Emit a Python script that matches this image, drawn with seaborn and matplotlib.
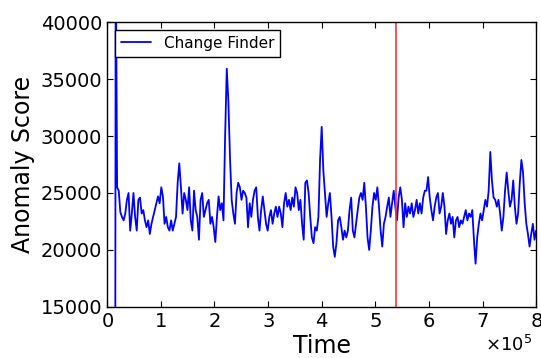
import numpy as np
import pandas as pd
import matplotlib
matplotlib.use("Agg")
import matplotlib.pyplot as plt
import seaborn as sns

# ---- data ----
head_time = [15000, 16000]
head_score = [0, 48000]

body_start = 18600
body_end = 800000
score = [
    25500, 25200, 23300, 22900, 22600, 23200, 24400, 25000, 21700, 23200,
    25000, 22900, 21700, 24400, 24600, 23200, 23500, 22600, 22000, 22600,
    21400, 22300, 22900, 23500, 24100, 24700, 24100, 25500, 24700, 22300,
    22900, 22000, 21700, 22600, 21700, 22300, 22900, 25900, 27600, 25500,
    23200, 25000, 24400, 23500, 25500, 22600, 21700, 25200, 23500, 22900,
    20900, 24400, 25000, 22900, 23500, 24100, 24400, 22300, 22900,
    22000, 20700, 22900, 24700, 23500, 24100, 22600, 30000, 35900, 33000,
    28000, 24400, 23200, 22300, 25000, 25900, 25500, 24400, 25200, 25000,
    24600, 22000, 24100, 22900, 24400, 25200, 25500, 22900, 21700, 23500,
    24700, 23500, 22300, 21700, 22900, 23500, 22300, 23200, 23800, 22900,
    23800, 23200, 22000, 24100, 25000, 23800, 24400, 23500, 24600, 23800,
    25500, 25000, 23500, 24400, 22300, 20900, 25900, 26100, 25000, 22900,
    21100, 20600, 22000, 21700, 22900, 27900, 30800, 27000, 25000, 22900,
    24100, 25000, 22900, 20300, 19400, 20600, 22600, 22900, 22000, 20900,
    21700, 21100, 21700, 23500, 24600, 21700, 21100, 22300, 23500, 24600,
    25000, 24400, 25900, 23800, 21100, 20000, 21700, 23800, 25000, 24400,
    25500, 23800, 21700, 20300, 22300, 22900, 23800, 24600, 22900, 24100,
    25200, 23800, 22600, 24600, 25500, 24400, 22000, 24100, 22900, 23800,
    23200, 24100, 22900, 23500, 24400, 23200, 24100, 23200, 24600, 25200,
    25200, 26400, 24600, 23500, 22600, 23800, 24600, 25000, 23200, 23800,
    25000, 23800, 21400, 22600, 23200, 22300, 22900, 21100, 22600, 22900,
    22000, 22600, 22300, 22900, 23500, 22600, 23200, 22900, 23500, 20900,
    18800, 21100, 22300, 23200, 22600, 23500, 24400, 23800, 25200, 28600,
    26100, 24600, 24400, 23800, 24400, 23200, 21700, 22900, 25200, 26800,
    25200, 23800, 24400, 26100, 23800, 22300, 23200, 25900, 27900, 26800,
    24100, 22300, 21400, 20300, 21400, 22300, 20900, 21700,
]
change_point = 538000

body_time = np.linspace(body_start, body_end, len(score))
df = pd.DataFrame({
    "Time": np.concatenate([head_time, body_time]),
    "Score": np.concatenate([head_score, score]),
})

# ---- style ----
sns.set_style("ticks")
plt.rcParams["font.family"] = ["DejaVu Sans"]
plt.rcParams.update({
    "xtick.direction": "in", "ytick.direction": "in",
    "xtick.top": True, "ytick.right": True,
    "xtick.major.size": 4, "ytick.major.size": 4,
    "axes.edgecolor": "black", "axes.linewidth": 1.0,
    "xtick.color": "black", "ytick.color": "black",
    "text.color": "black", "axes.labelcolor": "black",
})

fig = plt.figure(figsize=(5.41, 3.58), dpi=100)
ax = fig.add_axes([0.198, 0.1425, 0.793, 0.796])

sns.lineplot(data=df, x="Time", y="Score", ax=ax, color="#0000ff",
             linewidth=1.3, label="Change Finder", estimator=None, sort=False)
ax.axvline(change_point, color="#ff3030", linewidth=1.2)

ax.set_xlim(0, 800000)
ax.set_ylim(15000, 40000)
ax.set_xticks(np.arange(0, 800001, 100000))
ax.set_yticks(np.arange(15000, 40001, 5000))
ax.ticklabel_format(style="sci", axis="x", scilimits=(0, 0), useMathText=True)
offset = ax.xaxis.get_offset_text()
offset.set_fontsize(13)
offset.set_horizontalalignment("right")
offset.set_x(0.99)
ax.tick_params(labelsize=14)
ax.set_xlabel("Time", fontsize=17, labelpad=2)
ax.set_ylabel("Anomaly Score", fontsize=17)

leg = ax.legend(loc="upper left", fontsize=11, fancybox=False, framealpha=1,
                edgecolor="black", borderaxespad=0.5)
leg.get_frame().set_linewidth(1.0)

fig.savefig("out.png", dpi=100)
